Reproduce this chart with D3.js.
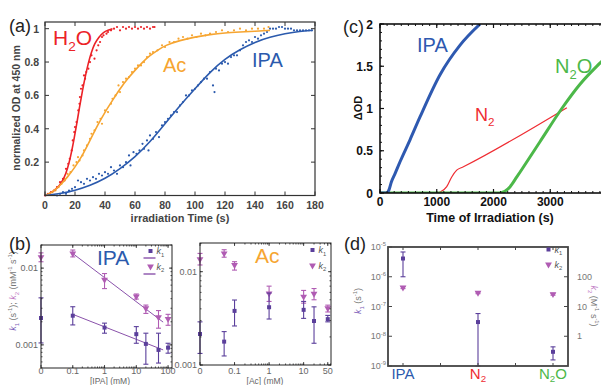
<!DOCTYPE html>
<html>
<head>
<meta charset="utf-8">
<script src="https://cdn.jsdelivr.net/npm/d3@7"></script>
<style>
body { margin: 0; background: #fff; }
svg { display: block; font-family: "Liberation Sans", Arial, sans-serif; }
</style>
</head>
<body>
<div id="chart"></div>
<script>
// ---- panel (a): normalized OD vs irradiation time ----
const h2oPts = [[0,0],[2,0.01],[4,0.02],[6,0.03],[8,0.05],[10,0.08],[12,0.1],[13,0.09],[14,0.16],[15.5,0.19],[16.5,0.22],[17.8,0.27],[18.5,0.33],[19.5,0.38],[20,0.41],[21,0.44],[22.2,0.51],[23,0.55],[23.3,0.59],[24,0.64],[25,0.66],[26,0.72],[26.7,0.7],[27.5,0.74],[28.9,0.76],[30,0.8],[31,0.84],[33,0.82],[34.4,0.87],[35.5,0.9],[36.7,0.92],[38,0.95],[39,0.96],[41,0.97],[42,0.98],[44,0.99],[46,1.0],[48,1.01],[50,0.99],[52,1.01],[54,1.0],[56,1.01],[58,1.0],[60,1.01],[62,1.0],[64,1.01],[66,1.0],[68,1.01],[70,1.0],[72,1.01],[73,1.01]];
const h2oFit = [[0,0],[5,0.02],[10,0.06],[13,0.11],[15,0.16],[17,0.23],[19,0.32],[21,0.42],[23,0.53],[25,0.63],[27,0.72],[29,0.8],[31,0.86],[33,0.91],[36,0.95],[39,0.98],[42,0.99],[45,1.0]];
const acPts = [[3,0.01],[5,0.02],[7,0.03],[9,0.05],[11,0.07],[13,0.1],[15,0.13],[17,0.14],[19,0.18],[21,0.2],[22,0.23],[23,0.21],[25,0.24],[26,0.27],[28,0.3],[30,0.34],[31,0.37],[33,0.39],[35,0.44],[37,0.46],[38,0.43],[40,0.51],[42,0.5],[44,0.55],[45,0.58],[47,0.6],[49,0.66],[50,0.62],[52,0.68],[54,0.7],[56,0.71],[58,0.74],[60,0.76],[62,0.78],[64,0.78],[66,0.8],[68,0.83],[70,0.85],[72,0.86],[75,0.87],[78,0.9],[80,0.89],[83,0.92],[86,0.92],[89,0.94],[92,0.95],[95,0.94],[98,0.96],[101,0.95],[104,0.97],[107,0.96],[110,0.97],[114,0.98],[118,0.99],[122,0.98],[126,0.99],[130,1.0],[134,0.99],[138,1.0],[142,1.0],[146,1.0],[149,1.01]];
const acFit = [[0,0],[5,0.02],[10,0.06],[15,0.11],[20,0.17],[25,0.24],[30,0.33],[35,0.42],[40,0.5],[45,0.57],[50,0.64],[55,0.7],[60,0.75],[65,0.8],[70,0.84],[75,0.87],[80,0.9],[90,0.93],[100,0.95],[110,0.965],[120,0.975],[130,0.98],[140,0.985],[150,0.99]];
const ipaPts = [[8,0],[10,0.01],[12,0.02],[14,0.01],[16,0.03],[18,0.04],[20,0.05],[22,0.09],[24,0.08],[26,0.07],[28,0.1],[30,0.09],[32,0.11],[34,0.1],[36,0.13],[38,0.12],[40,0.14],[42,0.13],[44,0.17],[46,0.15],[48,0.13],[50,0.18],[52,0.17],[54,0.2],[56,0.24],[57,0.18],[59,0.26],[61,0.25],[63,0.27],[65,0.31],[66,0.28],[68,0.33],[69,0.27],[70,0.36],[72,0.34],[74,0.38],[76,0.35],[78,0.42],[80,0.44],[82,0.46],[84,0.48],[86,0.5],[88,0.5],[90,0.54],[92,0.56],[94,0.6],[96,0.6],[98,0.63],[100,0.64],[102,0.66],[104,0.68],[106,0.7],[108,0.7],[110,0.74],[112,0.66],[113,0.62],[114,0.76],[116,0.75],[118,0.79],[120,0.8],[122,0.79],[124,0.83],[126,0.84],[128,0.84],[130,0.87],[132,0.9],[134,0.92],[136,0.93],[138,0.92],[140,0.95],[142,0.94],[144,0.96],[146,0.97],[148,0.98],[150,1.0],[152,1.0],[154,1.0],[156,1.01],[158,1.01],[160,1.0],[162,1.0],[164,1.0],[166,0.99],[168,0.99],[170,0.99],[172,0.99],[174,0.99],[176,0.99],[178,0.99]];
const ipaFit = [[0,0],[10,0.01],[20,0.03],[30,0.06],[40,0.1],[50,0.16],[60,0.23],[70,0.32],[80,0.43],[90,0.54],[100,0.64],[110,0.74],[120,0.82],[130,0.875],[140,0.92],[150,0.95],[160,0.97],[170,0.985],[178,0.99]];
const aXTicks = [0,20,40,60,80,100,120,140,160,180];
const aYTicks = [0.2,0.4,0.6,0.8,1];

// ---- panel (c): delta OD vs time of irradiation ----
const cIPA = [[0,0],[120,0],[160,0.04],[200,0.13],[265,0.23],[353,0.37],[529,0.63],[705,0.9],[1058,1.4],[1411,1.75],[1764,2.0]];
const cN2 = [[0,0],[1000,0],[1060,0.01],[1176,0.075],[1264,0.19],[1352,0.27],[1470,0.31],[3293,1.01]];
const cN2O = [[0,0],[2100,0],[2200,0.02],[2293,0.075],[2411,0.19],[2822,0.61],[3204,1.0],[3528,1.29],[3880,1.54],[4000,1.62]];
const cXTicks = [0,1000,2000,3000];
const cYTicks = [0,0.5,1,1.5,2];

// ---- panel (b): rate constants vs concentration ----
const ipaConc = [0,0.1,1,10,20,50,100];
const ipaK1 = [0.00224,0.0024,0.00168,0.00138,0.00103,0.00086,0.00092];
const ipaK1Lo = [0.00106,0.00182,0.00142,0.00105,0.00056,0.00058,0.00078];
const ipaK1Hi = [0.0041,0.00314,0.00192,0.00173,0.00142,0.00142,0.00105];
const ipaK2 = [0.0139,0.0155,0.00705,0.00427,0.003,0.00229,0.00218];
const ipaK2Lo = [0.0121,0.014,0.00541,0.00395,0.00257,0.00165,0.0018];
const ipaK2Hi = [0.0158,0.0172,0.0085,0.0046,0.0033,0.0028,0.0025];
const ipaK1Fit = [[0.1,0.0025],[70,0.00086]];
const ipaK2Fit = [[0.1,0.0155],[70,0.00198]];
const ipaXTicks = [0,0.1,1,10,100];

const acConc = [0,0.05,0.1,1,10,20,50];
const acK1 = [0.00215,0.00178,0.0038,0.00416,0.0039,0.00296,0.0031];
const acK1Lo = [0.00133,0.00125,0.00262,0.00311,0.00316,0.00171,0.0029];
const acK1Hi = [0.0029,0.00228,0.00497,0.0059,0.0048,0.0042,0.0034];
const acK2 = [0.0136,0.0157,0.0118,0.00586,0.0054,0.0058,0.00405];
const acK2Lo = [0.0118,0.0143,0.0104,0.0048,0.0046,0.005,0.0037];
const acK2Hi = [0.0157,0.0172,0.0128,0.007,0.0063,0.0066,0.00438];
const acXTicks = [0,0.1,1,10,50];

// ---- panel (d): rate constants per condition ----
const dCats = ["IPA","N2","N2O"];
const dK1 = [4.1e-6,3.0e-8,3.0e-9];
const dK1Lo = [1.0e-6,1.0e-9,1.6e-9];
const dK1Hi = [6.8e-6,5.8e-8,4.4e-9];
const dK2 = [43.5,29,26];
const dK2Lo = [40,27,24];
const dK2Hi = [47,31,28];

const RED = "#ec2227", ORANGE = "#f6a531", BLUE = "#2b5aad", GREEN = "#4cb849";
const K1C = "#5b3f9b", K2C = "#b05cb3", FITC = "#8a52ab";

const svg = d3.select("#chart").append("svg")
    .attr("width", 601)
    .attr("height", 385);

function frame(g, x0, x1, yTop, yBot, stroke, sw) {
  g.append("rect")
    .attr("x", x0).attr("y", yTop)
    .attr("width", x1 - x0).attr("height", yBot - yTop)
    .attr("fill", "none").attr("stroke", stroke).attr("stroke-width", sw);
}

// vertical tick marks at x positions, on bottom and top
function vTicks(g, xs, yTop, yBot, len, color, sw) {
  g.append("g").selectAll("line").data(xs).join("line")
    .attr("x1", d => d).attr("x2", d => d)
    .attr("y1", yBot).attr("y2", yBot - len)
    .attr("stroke", color).attr("stroke-width", sw);
  g.append("g").selectAll("line").data(xs).join("line")
    .attr("x1", d => d).attr("x2", d => d)
    .attr("y1", yTop).attr("y2", yTop + len)
    .attr("stroke", color).attr("stroke-width", sw);
}
function hTicks(g, ys, x0, x1, len, color, sw) {
  g.append("g").selectAll("line").data(ys).join("line")
    .attr("x1", x0).attr("x2", x0 + len)
    .attr("y1", d => d).attr("y2", d => d)
    .attr("stroke", color).attr("stroke-width", sw);
  g.append("g").selectAll("line").data(ys).join("line")
    .attr("x1", x1).attr("x2", x1 - len)
    .attr("y1", d => d).attr("y2", d => d)
    .attr("stroke", color).attr("stroke-width", sw);
}

// text built from parts: {t, fill, sub, sup, it}
function rich(g, x, y, parts, opts) {
  const t = g.append("text")
    .attr("x", x).attr("y", y)
    .attr("font-size", opts.size)
    .attr("text-anchor", opts.anchor || "start")
    .attr("fill", opts.fill || "#000");
  if (opts.weight) t.attr("font-weight", opts.weight);
  if (opts.rotate) t.attr("transform", `rotate(${opts.rotate},${x},${y})`);
  const subK = opts.subK || 0.3;
  let shift = 0;
  parts.forEach(p => {
    const target = p.sub ? opts.size * subK : p.sup ? -opts.size * 0.4 : 0;
    const s = t.append("tspan").text(p.t).attr("dy", target - shift);
    shift = target;
    if (p.sub || p.sup) s.attr("font-size", opts.size * 0.65);
    if (p.fill) s.attr("fill", p.fill);
    if (p.it) s.attr("font-style", "italic");
  });
  return t;
}

function panelLetter(x, y, s) {
  svg.append("text").attr("x", x).attr("y", y)
    .attr("font-size", 18).attr("fill", "#222").text(s);
}

// ================= panel (a) =================
{
  const g = svg.append("g");
  const x = d3.scaleLinear([0, 180], [45, 315]);
  const y = d3.scaleLinear([0, 1.04], [195.5, 22]);
  const line = d3.line().x(d => x(d[0])).y(d => y(d[1])).curve(d3.curveBasis);

  [[h2oPts, RED], [acPts, ORANGE], [ipaPts, BLUE]].forEach(([pts, c]) => {
    g.append("g").selectAll("circle").data(pts).join("circle")
      .attr("cx", d => x(d[0])).attr("cy", d => y(d[1]))
      .attr("r", 1.1).attr("fill", c);
  });
  [[h2oFit, RED], [acFit, ORANGE], [ipaFit, BLUE]].forEach(([pts, c]) => {
    g.append("path").datum(pts).attr("d", line)
      .attr("fill", "none").attr("stroke", c).attr("stroke-width", 1.6);
  });

  frame(g, 45, 315, 22, 195.5, "#333", 1.2);
  vTicks(g, aXTicks.map(x), 22, 195.5, 4, "#333", 1);
  hTicks(g, aYTicks.map(y), 45, 315, 4, "#333", 1);

  g.append("g").selectAll("text").data(aXTicks).join("text")
    .attr("x", d => x(d)).attr("y", 209)
    .attr("text-anchor", "middle").attr("font-size", 10.5).attr("font-weight", "bold")
    .attr("fill", "#444").text(d => d);
  g.append("g").selectAll("text").data(aYTicks).join("text")
    .attr("x", 39).attr("y", d => y(d) + 4)
    .attr("text-anchor", "end").attr("font-size", 10.5).attr("font-weight", "bold")
    .attr("fill", "#444").text(d => d);
  g.append("text").attr("x", 180).attr("y", 222)
    .attr("text-anchor", "middle").attr("font-size", 11).attr("font-weight", "bold")
    .attr("fill", "#444").text("irradiation Time (s)");
  g.append("text").attr("transform", "translate(20,108) rotate(-90)")
    .attr("text-anchor", "middle").attr("font-size", 10.5).attr("font-weight", "bold")
    .attr("fill", "#444").text("normalized OD at 450 nm");

  rich(g, 53, 45, [{t: "H"}, {t: "2", sub: true}, {t: "O"}], {size: 21, fill: RED});
  g.append("text").attr("x", 163).attr("y", 72).attr("font-size", 20).attr("fill", ORANGE).text("Ac");
  g.append("text").attr("x", 252).attr("y", 67).attr("font-size", 20).attr("fill", BLUE).text("IPA");
  panelLetter(9, 32, "(a)");
}

// ================= panel (c) =================
{
  const g = svg.append("g");
  const x = d3.scaleLinear([0, 4000], [380, 607]);
  const y = d3.scaleLinear([0, 2], [193, 24]);
  svg.append("clipPath").attr("id", "clipC")
    .append("rect").attr("x", 380).attr("y", 24).attr("width", 227).attr("height", 169);
  const line = d3.line().x(d => x(d[0])).y(d => y(d[1])).curve(d3.curveMonotoneX);
  const lines = g.append("g").attr("clip-path", "url(#clipC)");
  lines.append("path").datum(cN2).attr("d", line)
    .attr("fill", "none").attr("stroke", "#ef2c32").attr("stroke-width", 1.2);
  lines.append("path").datum(cN2O).attr("d", line)
    .attr("fill", "none").attr("stroke", GREEN).attr("stroke-width", 3);
  lines.append("path").datum(cIPA).attr("d", line)
    .attr("fill", "none").attr("stroke", "#2e59b0").attr("stroke-width", 3);

  frame(g, 380, 607, 24, 193, "#111", 1.6);
  vTicks(g, d3.range(0, 4001, 125).map(x), 24, 193, 2, "#111", 1);
  vTicks(g, cXTicks.map(x), 24, 193, 4, "#111", 1.2);
  hTicks(g, d3.range(0, 2.01, 0.1).map(y), 380, 607, 2, "#111", 1);
  hTicks(g, cYTicks.map(y), 380, 607, 4, "#111", 1.2);

  g.append("g").selectAll("text").data(cXTicks).join("text")
    .attr("x", d => x(d)).attr("y", 206)
    .attr("text-anchor", "middle").attr("font-size", 12).attr("font-weight", "bold")
    .attr("fill", "#111").text(d => d);
  g.append("g").selectAll("text").data(cYTicks).join("text")
    .attr("x", 373).attr("y", d => y(d) + 4.5)
    .attr("text-anchor", "end").attr("font-size", 12).attr("font-weight", "bold")
    .attr("fill", "#111").text(d => d);
  g.append("text").attr("x", 490).attr("y", 222)
    .attr("text-anchor", "middle").attr("font-size", 12.5).attr("font-weight", "bold")
    .attr("fill", "#111").text("Time of Irradiation (s)");
  g.append("text").attr("transform", "translate(362,108) rotate(-90)")
    .attr("text-anchor", "middle").attr("font-size", 11).attr("font-weight", "bold")
    .attr("fill", "#111").text("ΔOD");

  g.append("text").attr("x", 417).attr("y", 52).attr("font-size", 20).attr("fill", "#2e59b0").text("IPA");
  rich(g, 475, 121, [{t: "N"}, {t: "2", sub: true}], {size: 18, fill: "#ef2c32"});
  rich(g, 555, 73, [{t: "N"}, {t: "2", sub: true}, {t: "O"}], {size: 20, fill: GREEN});
  panelLetter(343, 33, "(c)");
}

// ---- shared marker / error bar drawing for (b) and (d) ----
const sq = d3.symbol(d3.symbolSquare, 16);
const tri = d3.symbol(d3.symbolTriangle, 20);

function errSeries(g, xs, vals, lo, hi, y, color, shape, down) {
  const data = xs.map((xv, i) => ({x: xv, v: vals[i], lo: lo[i], hi: hi[i]}));
  const eb = g.append("g").attr("stroke", color).attr("stroke-width", 1.1);
  data.forEach(d => {
    eb.append("line").attr("x1", d.x).attr("x2", d.x).attr("y1", y(d.lo)).attr("y2", y(d.hi));
    eb.append("line").attr("x1", d.x - 2.5).attr("x2", d.x + 2.5).attr("y1", y(d.lo)).attr("y2", y(d.lo));
    eb.append("line").attr("x1", d.x - 2.5).attr("x2", d.x + 2.5).attr("y1", y(d.hi)).attr("y2", y(d.hi));
  });
  g.append("g").selectAll("path").data(data).join("path")
    .attr("d", shape)
    .attr("transform", d => `translate(${d.x},${y(d.v)})` + (down ? " rotate(180)" : ""))
    .attr("fill", color);
}

function logFrame(g, x, y, xTickVals, yTickVals) {
  const [x0, x1] = x.range(), [yb, yt] = y.range();
  frame(g, x0, x1, yt, yb, "#222", 1);
  vTicks(g, x.ticks().filter(v => v >= 0.1).map(x), yt, yb, 1.5, "#222", 0.8);
  vTicks(g, xTickVals.map(v => x(v === 0 ? 0.01 : v)), yt, yb, 3, "#222", 0.8);
  hTicks(g, y.ticks().map(y), x0, x1, 1.5, "#222", 0.8);
  hTicks(g, yTickVals.map(y), x0, x1, 3, "#222", 0.8);
  g.append("g").selectAll("text").data(xTickVals).join("text")
    .attr("x", d => x(d === 0 ? 0.01 : d)).attr("y", 373.5)
    .attr("text-anchor", "middle").attr("font-size", 9).attr("fill", "#666").text(d => d);
  g.append("g").selectAll("text").data(yTickVals).join("text")
    .attr("x", x0 - 3).attr("y", d => y(d) + 3)
    .attr("text-anchor", "end").attr("font-size", 9).attr("fill", "#666").text(d => d);
}

function legendK(g, xx, y1, y2, withLines) {
  g.append("path").attr("d", sq).attr("transform", `translate(${xx},${y1})`).attr("fill", K1C);
  g.append("path").attr("d", tri).attr("transform", `translate(${xx},${y2}) rotate(180)`).attr("fill", K2C);
  rich(g, xx + 6, y1 + 3, [{t: "k", it: true}, {t: "1", sub: true}], {size: 9, fill: "#555"});
  rich(g, xx + 6, y2 + 3, [{t: "k", it: true}, {t: "2", sub: true}], {size: 9, fill: "#555"});
  if (withLines) {
    g.append("line").attr("x1", xx - 7).attr("x2", xx + 5).attr("y1", y1 + 7).attr("y2", y1 + 7)
      .attr("stroke", FITC).attr("stroke-width", 1.4);
    g.append("line").attr("x1", xx - 7).attr("x2", xx + 5).attr("y1", y2 + 7.5).attr("y2", y2 + 7.5)
      .attr("stroke", FITC).attr("stroke-width", 1.4);
  }
}

// ================= panel (b) IPA =================
{
  const g = svg.append("g");
  const x = d3.scaleLog([0.01, 133], [41, 172]);
  const y = d3.scaleLog([0.0005, 0.02], [368, 245]);
  const xv = c => x(c === 0 ? 0.01 : c);
  const fit = d3.line().x(d => x(d[0])).y(d => y(d[1]));
  g.append("path").datum(ipaK2Fit).attr("d", fit).attr("stroke", FITC).attr("stroke-width", 1).attr("fill", "none");
  g.append("path").datum(ipaK1Fit).attr("d", fit).attr("stroke", FITC).attr("stroke-width", 1).attr("fill", "none");
  errSeries(g, ipaConc.map(xv), ipaK2, ipaK2Lo, ipaK2Hi, y, K2C, tri, true);
  errSeries(g, ipaConc.map(xv), ipaK1, ipaK1Lo, ipaK1Hi, y, K1C, sq, false);
  logFrame(g, x, y, ipaXTicks, [0.001, 0.01]);
  legendK(g, 150.5, 251, 266.5, true);
  g.append("text").attr("x", 97).attr("y", 265).attr("font-size", 21).attr("fill", BLUE).text("IPA");
  g.append("text").attr("x", 110).attr("y", 383.5).attr("text-anchor", "middle")
    .attr("font-size", 8.5).attr("fill", "#666").text("[IPA] (mM)");
  rich(g, 16, 291, [
    {t: "k", it: true, fill: "#7a5cb8"}, {t: "1", sub: true, fill: "#7a5cb8"}, {t: " (s"}, {t: "-1", sup: true}, {t: "); "},
    {t: "k", it: true, fill: "#c078c4"}, {t: "2", sub: true, fill: "#c078c4"}, {t: " (mM"}, {t: "-1", sup: true}, {t: " s"}, {t: "-1", sup: true}, {t: ")"}
  ], {size: 9, fill: "#777", anchor: "middle", rotate: -90});
  panelLetter(9, 250, "(b)");
}

// ================= panel (b) Ac =================
{
  const g = svg.append("g");
  const x = d3.scaleLog([0.01, 62], [200, 331]);
  const y = d3.scaleLog([0.001, 0.0203], [365, 243]);
  const xv = c => x(c === 0 ? 0.01 : c);
  errSeries(g, acConc.map(xv), acK2, acK2Lo, acK2Hi, y, K2C, tri, true);
  errSeries(g, acConc.map(xv), acK1, acK1Lo, acK1Hi, y, K1C, sq, false);
  logFrame(g, x, y, acXTicks, [0.001, 0.01]);
  legendK(g, 312.5, 250, 265.5, false);
  g.append("text").attr("x", 255).attr("y", 263).attr("font-size", 21).attr("fill", ORANGE).text("Ac");
  g.append("text").attr("x", 265).attr("y", 383.5).attr("text-anchor", "middle")
    .attr("font-size", 8.5).attr("fill", "#666").text("[Ac] (mM)");
}

// ================= panel (d) =================
{
  const g = svg.append("g");
  const x = d3.scalePoint(dCats, [388, 568]).padding(0.2);
  const yL = d3.scaleLog([1e-9, 1e-5], [366, 247]);
  const yR = d3.scaleLog([0.1, 1000], [366, 247]);
  errSeries(g, dCats.map(c => x(c)), dK2, dK2Lo, dK2Hi, yR, K2C, tri, true);
  errSeries(g, dCats.map(c => x(c)), dK1, dK1Lo, dK1Hi, yL, K1C, sq, false);

  frame(g, 388, 568, 247, 366, "#444", 1.8);
  const mids = [x("IPA"), (x("IPA") + x("N2")) / 2, x("N2"), (x("N2") + x("N2O")) / 2, x("N2O")];
  vTicks(g, mids, 247, 366, 3, "#444", 1);
  const decL = [1e-9, 1e-8, 1e-7, 1e-6, 1e-5];
  g.append("g").selectAll("line").data(decL).join("line")
    .attr("x1", 388).attr("x2", 392).attr("y1", d => yL(d)).attr("y2", d => yL(d))
    .attr("stroke", "#444");
  const decR = [1, 10, 100];
  g.append("g").selectAll("line").data(decR).join("line")
    .attr("x1", 568).attr("x2", 564).attr("y1", d => yR(d)).attr("y2", d => yR(d))
    .attr("stroke", "#444");
  decL.forEach(d => {
    rich(g, 386, yL(d) + 3, [{t: "10"}, {t: String(Math.round(Math.log10(d))), sup: true}],
      {size: 9, fill: "#777", anchor: "end"});
  });
  g.append("g").selectAll("text").data(decR).join("text")
    .attr("x", 577).attr("y", d => yR(d) + 3)
    .attr("font-size", 9).attr("fill", "#777").text(d => d);

  const catLab = {
    IPA: [[{t: "IPA"}], BLUE],
    N2: [[{t: "N"}, {t: "2", sub: true}], "#ef2c32"],
    N2O: [[{t: "N"}, {t: "2", sub: true}, {t: "O"}], GREEN]
  };
  dCats.forEach(c => {
    rich(g, x(c), 379, catLab[c][0], {size: 15, fill: catLab[c][1], anchor: "middle", subK: 0.2});
  });
  legendK(g, 548.5, 249.5, 264.5, false);

  rich(g, 361, 301, [{t: "k", it: true, fill: "#7a5cb8"}, {t: "1", sub: true, fill: "#7a5cb8"}, {t: " (s"}, {t: "-1", sup: true}, {t: ")"}],
    {size: 9, fill: "#777", anchor: "middle", rotate: -90});
  rich(g, 591, 306, [{t: "k", it: true, fill: "#c078c4"}, {t: "2", sub: true, fill: "#c078c4"}, {t: " (M"}, {t: "-1", sup: true}, {t: " s"}, {t: "-1", sup: true}, {t: ")"}],
    {size: 9, fill: "#777", anchor: "middle", rotate: 90});
  panelLetter(344, 250, "(d)");
}
</script>
</body>
</html>
